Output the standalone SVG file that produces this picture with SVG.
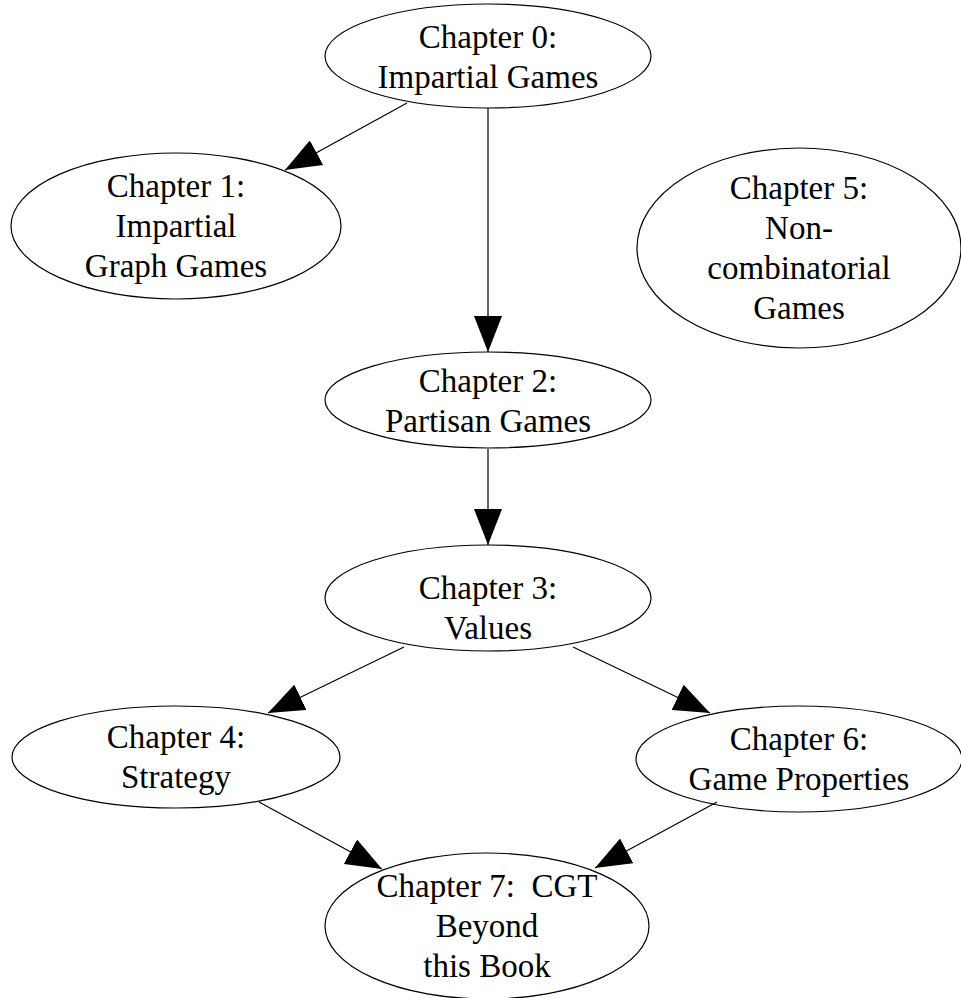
<svg xmlns="http://www.w3.org/2000/svg" width="961" height="998" viewBox="0 0 961 998">
<style>
.node ellipse{fill:none;stroke:#000;stroke-width:1.2}
.node text{font-family:"Liberation Serif","Times New Roman",serif;font-size:33px;fill:#000;text-anchor:middle}
.edges line{stroke:#000;stroke-width:1.2;marker-end:url(#arr)}
</style>
<defs>
<marker id="arr" markerUnits="userSpaceOnUse" markerWidth="36" markerHeight="28" viewBox="0 0 36 28" refX="36" refY="14" orient="auto">
<path d="M0,0 L36,14 L0,28 z" fill="#000"/>
</marker>
</defs>
<rect width="961" height="998" fill="#fff"/>
<g class="edges" id="connectors">
<line x1="407" y1="103" x2="285" y2="170"/>
<line x1="488" y1="108" x2="488" y2="352"/>
<line x1="488" y1="449" x2="488" y2="545"/>
<line x1="404" y1="647" x2="268" y2="713"/>
<line x1="573" y1="647" x2="710" y2="713"/>
<line x1="259" y1="802" x2="382" y2="869"/>
<line x1="717" y1="802" x2="595" y2="868"/>
</g>
<g class="node" id="ch0">
<ellipse cx="488" cy="56" rx="163" ry="52"/>
<text x="488" y="48">Chapter 0:</text>
<text x="488" y="88">Impartial Games</text>
</g>
<g class="node" id="ch1">
<ellipse cx="176" cy="226" rx="165" ry="73"/>
<text x="176" y="197">Chapter 1:</text>
<text x="176" y="237">Impartial</text>
<text x="176" y="277">Graph Games</text>
</g>
<g class="node" id="ch5">
<ellipse cx="799" cy="248" rx="162" ry="100"/>
<text x="799" y="199">Chapter 5:</text>
<text x="799" y="239">Non-</text>
<text x="799" y="279">combinatorial</text>
<text x="799" y="319">Games</text>
</g>
<g class="node" id="ch2">
<ellipse cx="488" cy="400" rx="163" ry="48"/>
<text x="488" y="392">Chapter 2:</text>
<text x="488" y="432">Partisan Games</text>
</g>
<g class="node" id="ch3">
<ellipse cx="488" cy="598" rx="163" ry="53"/>
<text x="488" y="599">Chapter 3:</text>
<text x="488" y="639">Values</text>
</g>
<g class="node" id="ch4">
<ellipse cx="176" cy="757" rx="164" ry="51"/>
<text x="176" y="748">Chapter 4:</text>
<text x="176" y="788">Strategy</text>
</g>
<g class="node" id="ch6">
<ellipse cx="799" cy="759" rx="163" ry="53"/>
<text x="799" y="750">Chapter 6:</text>
<text x="799" y="790">Game Properties</text>
</g>
<g class="node" id="ch7">
<ellipse cx="487" cy="926" rx="162" ry="73"/>
<text x="487" y="897">Chapter 7:&#160; CGT</text>
<text x="487" y="937">Beyond</text>
<text x="487" y="977">this Book</text>
</g>
</svg>
